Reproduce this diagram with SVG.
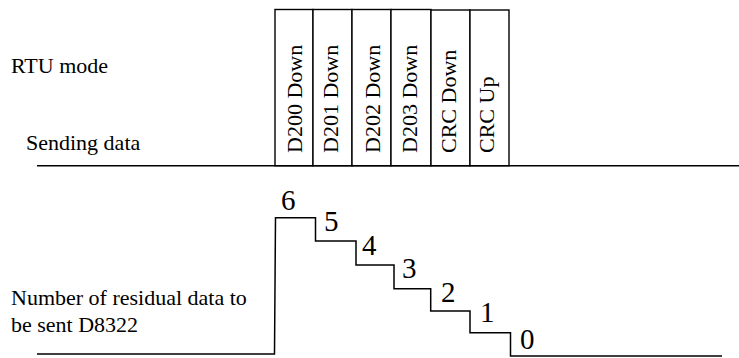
<svg xmlns="http://www.w3.org/2000/svg" width="739" height="358" viewBox="0 0 739 358">
<style>
.lbl{font-size:22px}
.num{font-size:29px}
.box{fill:#fff;stroke:#000;stroke-width:1.4}
.ln{fill:none;stroke:#000;stroke-width:1.5}
</style>
<rect width="739" height="358" fill="#fff"/>
<g font-family="'Liberation Serif', 'DejaVu Serif', 'Times New Roman', serif" fill="#000">
<g id="labels">
<text class="lbl" x="11" y="73">RTU mode</text>
<text class="lbl" x="26" y="150">Sending data</text>
<text class="lbl" x="11" y="305">Number of residual data to</text>
<text class="lbl" x="11" y="332">be sent D8322</text>
</g>
<g id="connectors">
<path class="ln" d="M37,165.7 H739"/>
<path class="ln" d="M37,354 H274.5 L275.5,217.7 H315.5 V241 H356 V265 H394 V288.7 H430.7 V311 H470 V332.7 H510.5 V356 H722"/>
</g>
<g id="box-d200"><rect class="box" x="275" y="9.5" width="38" height="156.2"/><text class="lbl" transform="translate(302,153) rotate(-90)">D200 Down</text></g>
<g id="box-d201"><rect class="box" x="313" y="9.5" width="39" height="156.2"/><text class="lbl" transform="translate(337.5,153) rotate(-90)">D201 Down</text></g>
<g id="box-d202"><rect class="box" x="352" y="9.5" width="39" height="156.2"/><text class="lbl" transform="translate(380,153) rotate(-90)">D202 Down</text></g>
<g id="box-d203"><rect class="box" x="391" y="9.5" width="40" height="156.2"/><text class="lbl" transform="translate(417,153) rotate(-90)">D203 Down</text></g>
<g id="box-crcdown"><rect class="box" x="431" y="10" width="39" height="155.7"/><text class="lbl" transform="translate(455.5,153) rotate(-90)">CRC Down</text></g>
<g id="box-crcup"><rect class="box" x="470" y="10" width="39" height="155.7"/><text class="lbl" transform="translate(493.5,153) rotate(-90)">CRC Up</text></g>
<g id="step-values">
<text class="num" x="281" y="210">6</text>
<text class="num" x="324" y="231">5</text>
<text class="num" x="362" y="255">4</text>
<text class="num" x="402" y="278">3</text>
<text class="num" x="441" y="302">2</text>
<text class="num" x="480" y="322">1</text>
<text class="num" x="520" y="349">0</text>
</g>
</g>
</svg>
